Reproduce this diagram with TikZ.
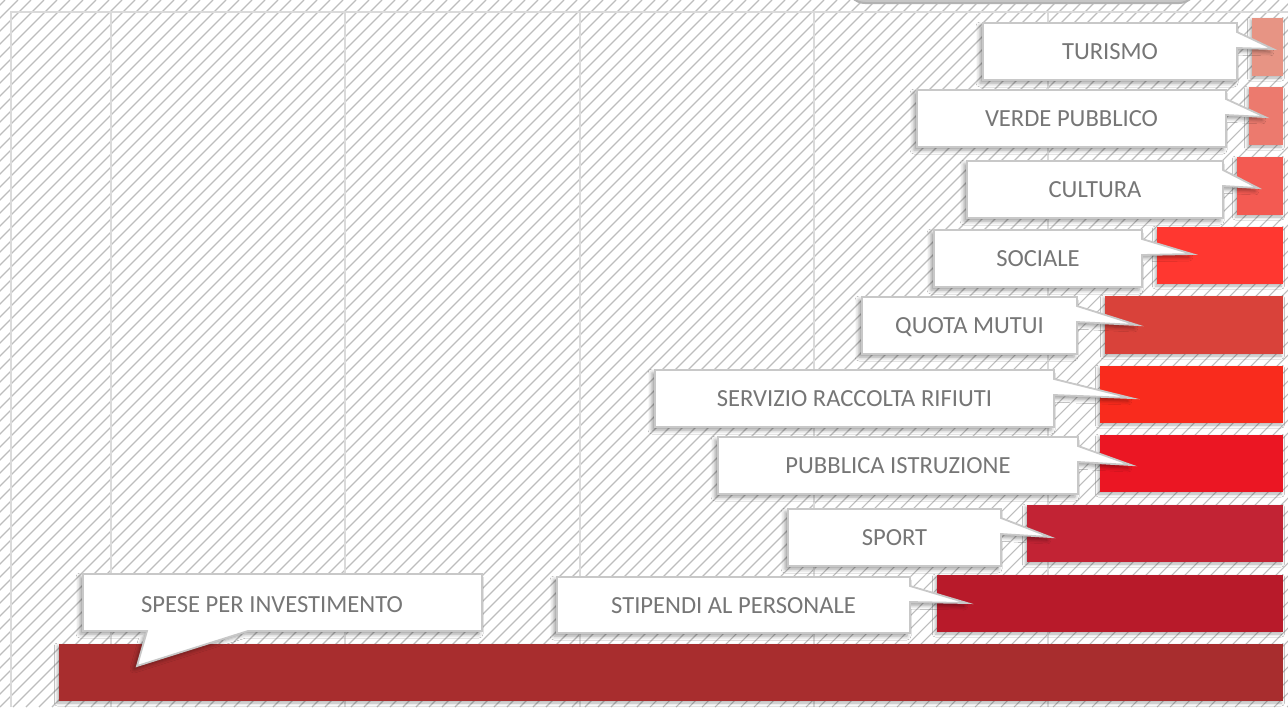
\documentclass[tikz,border=0pt]{standalone}
\usepackage{fontspec}
\setmainfont{Carlito}
\usetikzlibrary{shadows.blur}
\definecolor{hatchgray}{HTML}{BDBDBD}
\definecolor{gridgray}{HTML}{DADADA}
\definecolor{textgray}{HTML}{767676}
\definecolor{boxline}{HTML}{C8C8C8}
\definecolor{cTurismo}{HTML}{E79484}
\definecolor{cVerde}{HTML}{EC7A6E}
\definecolor{cCultura}{HTML}{F35A52}
\definecolor{cSociale}{HTML}{FF3730}
\definecolor{cMutui}{HTML}{D9423A}
\definecolor{cRifiuti}{HTML}{F92B1D}
\definecolor{cIstruzione}{HTML}{EB1623}
\definecolor{cSport}{HTML}{C22334}
\definecolor{cStipendi}{HTML}{B81A2A}
\definecolor{cSpese}{HTML}{A82D2E}
\tikzset{
  hatch/.style={hatchgray,line width=0.55pt},
  gridline/.style={gridgray,line width=1pt},
  bar/.style={blur shadow={shadow xshift=-0.8pt,shadow yshift=-1pt,shadow blur radius=1.5pt,shadow opacity=30}},
  callbox/.style={fill=white,draw=boxline,line width=0.9pt,line join=miter,
    blur shadow={shadow xshift=-1.5pt,shadow yshift=-1.5pt,shadow blur radius=2pt,shadow opacity=40}},
  calltext/.style={text=textgray,font=\fontsize{12.3pt}{14pt}\selectfont,inner sep=0pt,
    text height=8pt,text depth=0pt}
}
% callout: name, left, top, right, bottom, tip x, tip y, text
\newcommand{\callout}[8]{%
  \draw[callbox] (#2,#3) -- (#4,#3) -- (#4,#3+9) -- (#6,#7) -- (#4,#3+25)
    -- (#4,#5) -- (#2,#5) -- cycle;
  \node[calltext] (#1) at ({(#2+#4)/2},{(#3+#5)/2}) {#8};
}

\begin{document}
\begin{tikzpicture}[x=0.5pt,y=-0.5pt]
\useasboundingbox (0,0) rectangle (1288,707);
\clip (0,0) rectangle (1288,707);
\fill[white] (0,0) rectangle (1288,707);
% hatched background
\foreach \i in {-715,-702,...,1300}
  \draw[hatch] (\i,707) -- +(707,-707);
% grid
\draw[gridline] (11,707) -- (11,12) -- (1288,12);
\foreach \x in {111,345,580,814,1048}
  \draw[gridline] (\x,12) -- (\x,707);
% title box cut at the top
\draw[fill=gray!45,draw=gray!60,line width=1pt,rounded corners=9pt] (847,-30) rectangle (1197,3);
% bars
\fill[bar,cTurismo] (1252,18) rectangle (1283,76);
\fill[bar,cVerde] (1249,87) rectangle (1283,145);
\fill[bar,cCultura] (1237,157) rectangle (1283,215);
\fill[bar,cSociale] (1157,227) rectangle (1283,284);
\fill[bar,cMutui] (1105,296) rectangle (1283,354);
\fill[bar,cRifiuti] (1100,366) rectangle (1283,423);
\fill[bar,cIstruzione] (1100,435) rectangle (1283,492);
\fill[bar,cSport] (1027,505) rectangle (1283,562);
\fill[bar,cStipendi] (937,575) rectangle (1283,632);
\fill[bar,cSpese] (59,644) rectangle (1283,701);
% labels
\callout{turismo}{983}{23}{1237}{80}{1273}{49}{TURISMO}
\callout{verde}{917}{90}{1226}{147}{1265}{117}{VERDE PUBBLICO}
\callout{cultura}{967}{161}{1223}{218}{1258}{188}{CULTURA}
\callout{sociale}{934}{230}{1142}{287}{1192}{254}{SOCIALE}
\callout{mutui}{862}{297}{1077}{354}{1137}{325}{QUOTA MUTUI}
\callout{rifiuti}{655}{370}{1054}{427}{1131}{398}{SERVIZIO RACCOLTA RIFIUTI}
\callout{istruzione}{718}{437}{1078}{494}{1131}{465}{PUBBLICA ISTRUZIONE}
\callout{sport}{788}{509}{1001}{566}{1050}{537}{SPORT}
\callout{stipendi}{557}{577}{910}{633}{967}{603}{STIPENDI AL PERSONALE}
\draw[callbox] (83,574) -- (482,574) -- (482,631) -- (248,631) -- (137,666)
  -- (147,631) -- (83,631) -- cycle;
\node[calltext] (spese) at (272,604) {SPESE PER INVESTIMENTO};
\end{tikzpicture}
\end{document}
